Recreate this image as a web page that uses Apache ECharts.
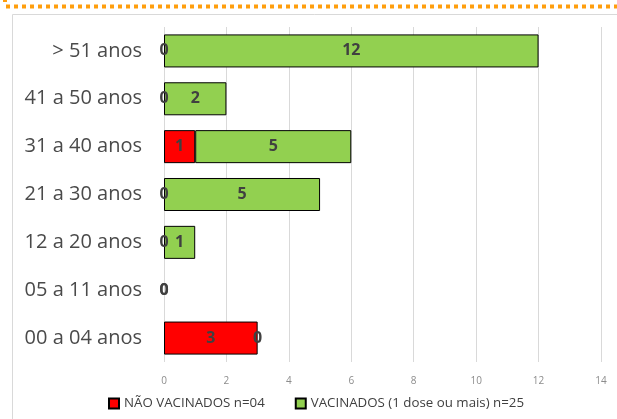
<!DOCTYPE html>
<html>
<head>
<meta charset="utf-8">
<script src="https://cdn.jsdelivr.net/npm/echarts@6/dist/echarts.min.js"></script>
<style>
  html, body { margin: 0; padding: 0; background: #fff; }
  #chart { width: 617px; height: 419px; }
</style>
</head>
<body>
<div id="chart"></div>
<script>
const categories = ['00 a 04 anos', '05 a 11 anos', '12 a 20 anos', '21 a 30 anos', '31 a 40 anos', '41 a 50 anos', '> 51 anos']
const naoVacinados = [3, 0, 0, 0, 1, 0, 0]
const vacinados = [0, 0, 1, 5, 5, 2, 12]
const seriesNames = ['NÃO VACINADOS n=04', 'VACINADOS (1 dose ou mais) n=25']

const font = 'Open Sans'

const labelStyle = {
    show: true,
    position: 'inside',
    color: '#404040',
    fontWeight: 'bold',
    fontSize: 16,
    fontFamily: font
}

// zero-length bars get no border, so only their "0" label is left
function toItems(values) {
    return values.map(v => (v === 0 ? { value: v, itemStyle: { borderWidth: 0 } } : v))
}

const chart = echarts.init(document.getElementById('chart'))

chart.setOption({
    animation: false,
    grid: {
        left: 164,
        right: 16,
        top: 27,
        bottom: 57
    },
    graphic: [
        {
            type: 'line',
            shape: { x1: 6, y1: 6.5, x2: 617, y2: 6.5 },
            style: { stroke: '#ff9e0d', lineWidth: 4, lineDash: [4, 4] }
        },
        {
            type: 'rect',
            shape: { x: 3, y: 0, width: 4, height: 2 },
            style: { fill: '#ff9e0d' }
        },
        {
            type: 'polyline',
            shape: { points: [[12.5, 419], [12.5, 14.5], [617, 14.5]] },
            style: { stroke: '#d9d9d9', lineWidth: 1, fill: null }
        }
    ],
    legend: {
        bottom: 4,
        left: 103,
        itemGap: 30,
        itemWidth: 10,
        itemHeight: 10,
        icon: 'rect',
        textStyle: { color: '#404040', fontSize: 13.3, fontFamily: font },
        data: seriesNames
    },
    xAxis: {
        type: 'value',
        min: 0,
        max: 14,
        interval: 2,
        axisLine: { show: false },
        axisTick: { show: false },
        axisLabel: { color: '#8c8c8c', fontSize: 10, fontFamily: font, margin: 14 },
        splitLine: { lineStyle: { color: '#d9d9d9', width: 1 } }
    },
    yAxis: {
        type: 'category',
        data: categories,
        axisLine: { show: false },
        axisTick: { show: false },
        axisLabel: { color: '#4a4a4a', fontSize: 20, fontFamily: font, margin: 22 }
    },
    series: [
        {
            name: seriesNames[0],
            type: 'bar',
            stack: 'total',
            barCategoryGap: '31%',
            data: toItems(naoVacinados),
            itemStyle: { color: '#ff0000', borderColor: '#000', borderWidth: 1 },
            label: labelStyle
        },
        {
            name: seriesNames[1],
            type: 'bar',
            stack: 'total',
            barCategoryGap: '31%',
            data: toItems(vacinados),
            itemStyle: { color: '#92d050', borderColor: '#000', borderWidth: 1 },
            label: labelStyle
        }
    ]
})
</script>
</body>
</html>
